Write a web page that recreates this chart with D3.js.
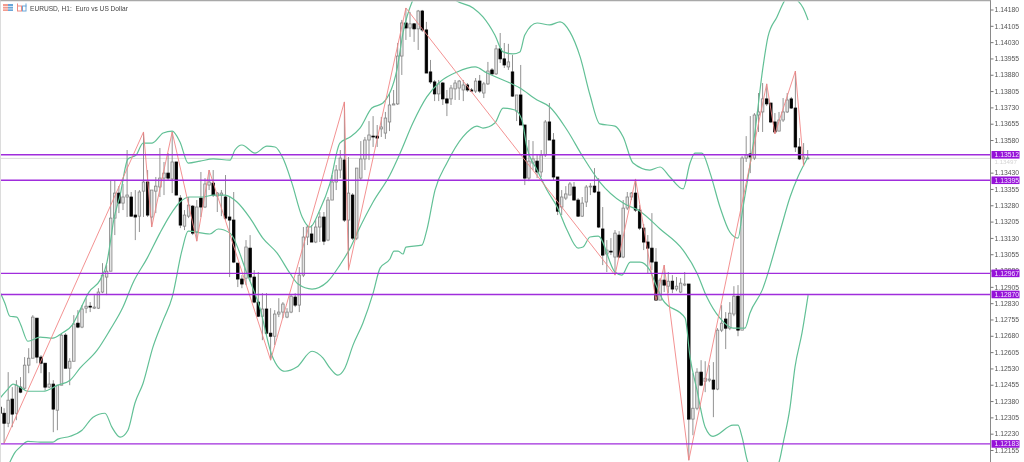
<!DOCTYPE html>
<html><head><meta charset="utf-8">
<script src="https://cdn.jsdelivr.net/npm/d3@7/dist/d3.min.js"></script>
<style>html,body{margin:0;padding:0;background:#fff}svg{display:block;filter:blur(.35px)}</style>
</head><body><div id="c"></div>
<script>
// Prices in points (1.13512 = 113512)
const chartTitle = "EURUSD, H1:  Euro vs US Dollar";
const opens = [112352,112324,112278,112389,112324,112444,112439,112545,112577,112761,112582,112554,112444,112458,112338,112453,112683,112531,112563,112738,112720,112807,112816,112807,112807,112881,112950,112977,113221,113336,113290,113318,113318,113235,113230,113345,113387,113226,113345,113364,113405,113428,113401,113479,113313,113184,113230,113276,113157,113313,113272,113373,113382,113322,113327,113318,113226,113212,113014,112941,112945,113083,112950,112835,112770,112803,112692,112678,112780,112789,112766,112789,112858,112821,112959,113134,113148,113111,113180,113226,113120,113304,113387,113442,113488,113212,113327,113129,113405,113493,113580,113598,113598,113631,113612,113663,113741,113746,113966,114118,114095,114114,114091,114173,114086,113893,113847,113792,113842,113769,113769,113815,113819,113810,113833,113810,113805,113851,113796,113838,113902,113884,113999,113953,113916,113893,113713,113787,113649,113405,113474,113483,113433,113511,113663,113580,113410,113272,113313,113327,113364,113304,113230,113295,113364,113368,113341,113171,113056,113069,113042,113143,113042,113267,113318,113336,113258,113175,113111,113083,113019,112844,112936,112908,112931,112895,112881,112913,112918,112297,112347,112513,112471,112476,112476,112435,112706,112757,112715,112780,112862,112706,113497,113516,113497,113695,113709,113769,113750,113663,113621,113672,113709,113769,113727,113548,113493,113493];
const highs = [112384,112347,112513,112444,112476,112490,112582,112623,112775,112761,112591,112554,112513,112476,112453,112692,112692,112577,112775,112798,112821,112853,112835,112867,112899,113014,113005,113396,113396,113368,113378,113534,113341,113350,113350,113617,113442,113350,113410,113543,113479,113520,113617,113479,113327,113258,113318,113281,113304,113433,113405,113442,113442,113341,113350,113419,113318,113341,113014,112959,113120,113143,112982,112973,112876,112876,112807,112798,112853,112835,112807,112867,112876,112996,113180,113189,113189,113212,113249,113249,113318,113419,113465,113534,113755,113502,113336,113451,113575,113594,113667,113690,113649,113686,113709,113792,113810,114026,114132,114187,114169,114118,114178,114178,114123,113948,113856,113856,113847,113810,113833,113856,113856,113856,113842,113819,113865,113879,113847,113939,113911,114017,114072,114026,114022,113971,113787,113925,113649,113580,113575,113511,113534,113672,113750,113612,113410,113350,113368,113387,113387,113313,113318,113373,113382,113451,113405,113272,113120,113129,113166,113161,113304,113341,113341,113401,113281,113194,113143,113244,113083,112945,113005,112973,112959,112950,112945,112973,112918,112508,112531,112568,112563,112545,112559,112715,112821,112789,112835,112908,112913,113506,113598,113690,113704,113796,113842,113838,113750,113704,113709,113773,113796,113778,113897,113589,113566,113534];
const lows = [112292,112186,112260,112260,112292,112416,112430,112508,112577,112554,112508,112430,112439,112237,112246,112453,112531,112453,112563,112715,112715,112784,112789,112803,112803,112876,112867,112977,113143,113244,113258,113226,113230,113120,113157,113226,113226,113180,113244,113318,113327,113396,113336,113327,113175,113166,113221,113143,113115,113226,113267,113350,113318,113249,113230,113212,112950,113014,112904,112899,112913,112931,112830,112766,112660,112683,112568,112637,112766,112761,112761,112784,112812,112789,112950,113097,113111,113106,113111,113097,113115,113304,113350,113405,113203,112982,113120,113120,113396,113442,113488,113548,113548,113594,113585,113621,113741,113741,113879,114040,114054,114031,113994,114077,113888,113838,113759,113759,113741,113690,113741,113764,113764,113759,113801,113801,113796,113796,113773,113833,113879,113879,113934,113911,113902,113778,113667,113649,113373,113391,113442,113405,113410,113502,113580,113396,113235,113235,113304,113327,113304,113226,113226,113272,113327,113336,113175,113005,112973,113051,112959,113037,113037,113258,113304,113249,113166,113074,112968,112982,112844,112844,112881,112876,112876,112885,112876,112908,112108,112223,112338,112448,112421,112467,112306,112430,112697,112619,112706,112770,112678,112706,113479,113428,113488,113617,113617,113736,113658,113608,113621,113663,113704,113723,113525,113488,113460,113493];
const closes = [112324,112278,112384,112320,112453,112421,112545,112577,112766,112582,112554,112444,112458,112343,112453,112683,112531,112563,112734,112720,112803,112816,112812,112812,112881,112959,112977,113221,113336,113290,113318,113327,113230,113226,113341,113387,113235,113350,113368,113405,113428,113405,113479,113327,113189,113235,113281,113152,113272,113272,113378,113387,113327,113336,113336,113221,113212,113019,112941,112918,113088,112950,112835,112770,112803,112692,112678,112780,112789,112826,112789,112862,112821,112959,113134,113180,113111,113180,113226,113115,113304,113387,113442,113497,113212,113336,113129,113451,113493,113580,113603,113594,113589,113640,113681,113741,113746,113966,114118,114095,114114,114091,114173,114086,113888,113847,113792,113838,113769,113750,113819,113842,113851,113833,113810,113805,113851,113805,113838,113897,113884,113999,113953,113925,113939,113782,113787,113649,113405,113483,113493,113433,113511,113663,113580,113410,113253,113318,113332,113378,113304,113230,113290,113364,113368,113341,113180,113051,113074,113065,113152,113042,113267,113318,113336,113258,113175,113111,113083,113019,112844,112936,112913,112931,112895,112908,112922,112918,112297,112347,112513,112453,112485,112481,112435,112706,112738,112715,112784,112862,112706,113497,113511,113502,113695,113709,113769,113746,113663,113617,113672,113709,113764,113727,113548,113493,113502,113497];

const zigzagIndex = [1,35,37,42,48,51,66,84,85,99,150,155,160,162,168,187,189,194,196];
const zigzagPrice = [112186,113617,113180,113617,113115,113442,112568,113755,112982,114187,112959,113401,112844,113005,112108,113838,113608,113897,113460];

const upperIndex = [0,1.2,2.4,4.1,5.1,6.8,9.8,12.9,15.1,17.6,19.5,21.7,24.4,26.1,27.1,27.6,29.3,31.2,33.2,34.9,37.1,39.8,42,43.9,45.9,48.8,52,56.1,57.3,59,62.2,65.1,67.1,69,71.2,73.7,75.6,78,80.5,82.9,85.4,87.8,90.7,93.4,96.8,98.3,100.7,105.9,111,115.4,117.8,120.7,122.7,125.1,126.8,128,131,134.1,136.6,139,141.5,143.9,146.3,150,152,154.4,158.5,161,163.4,166.6,168.3,169.5,171.2,173.2,175.6,178,180,181.2,184.1,186.1,187.3,189.5,191.5,192.9,194.4,195.9,197.1];
const upperBand = [112881,112830,112770,112766,112729,112655,112674,112669,112692,112729,112798,112881,112936,113019,113134,113198,113327,113493,113511,113566,113566,113612,113621,113571,113474,113483,113493,113488,113534,113557,113520,113552,113548,113497,113382,113226,113180,113258,113382,113566,113594,113635,113727,113750,113902,114072,114224,114339,114224,114187,114146,114063,113985,113976,113985,114063,114118,114109,114123,114077,113962,113787,113654,113644,113594,113474,113442,113456,113410,113355,113474,113520,113520,113428,113272,113157,113129,113267,113612,113916,114054,114146,114224,114247,114224,114187,114132];
const middleIndex = [0,1.7,3.2,4.9,6.8,10.5,14.1,17.1,19.5,23.7,26.8,30,32.4,35.9,39,41.5,43.9,46.3,49.5,52,54.9,57.8,61,64.1,67.6,70.7,72.7,76.1,79.8,82.9,85.4,87.1,91,95.1,97.6,100.7,104.1,107.3,111.5,115.9,118.8,122.7,126.8,131,134.1,138.3,142.2,146.3,152,156.1,161,166.6,170,172.4,175.6,178.8,181.7,182.9,185.9,190.2,192.7,194.6,197.1];
const middleBand = [112393,112430,112458,112444,112425,112425,112453,112476,112531,112614,112706,112812,112922,113037,113152,113235,113295,113318,113318,113327,113327,113295,113221,113129,113060,112968,112918,112895,112927,113005,113083,113152,113295,113419,113520,113658,113778,113847,113893,113916,113888,113856,113819,113764,113732,113626,113502,113387,113290,113253,113171,113074,112968,112858,112761,112715,112715,112784,112890,113157,113318,113410,113502];
const lowerIndex = [2.4,3.7,4.9,6.8,9.8,12.9,14.1,17.1,20,22.7,25.6,27.3,29.3,31.2,32.9,34.9,37.3,39.8,42,44.4,45.9,51.2,53.2,56.1,60.2,63.4,66.3,69.5,72.4,76.1,78.8,80.5,82.4,84.1,86.1,88.5,91,92.7,95.1,96.1,97.1,98.3,99,102.9,104.1,106.1,109,112.9,116.3,117.8,120.7,122.7,125.6,127.3,128.5,131,133.4,135.9,138.3,141,142.2,143.9,145.9,150,151.7,153.7,156.1,158.5,160.2,161.7,167.1,168.3,170,172,173.9,178.8,180,181,182.4,186.6,190,191,192.7,193.9,195.6,197.1];
const lowerBand = [112099,112145,112168,112195,112191,112191,112205,112218,112246,112306,112324,112260,112214,112246,112370,112462,112628,112752,112858,113074,113161,113148,113171,113152,112968,112807,112591,112517,112536,112609,112577,112531,112499,112531,112637,112738,112876,112991,113033,113069,113069,113056,113088,113097,113166,113350,113474,113594,113644,113635,113658,113727,113718,113672,113548,113442,113350,113272,113166,113083,113088,113134,113138,112973,112959,113019,113019,112982,112904,112844,112761,112582,112430,112260,112218,112269,112269,112214,112099,112016,112099,112186,112352,112536,112692,112867];

const levels = [113512,113395,112967,112870,112183];
const currentPrice = 113497;
const hiddenTicks = [113505];
const tickFirst = 114180, tickLast = 112155, tickStep = 75;
const tickValues = d3.range(tickFirst, tickLast - 1, -tickStep).filter(v => !hiddenTicks.includes(v));

const W = 1024, H = 462, axisX = 990.5;
const fmt = v => (v / 1e5).toFixed(5);
const x = d3.scaleLinear().domain([0, 197]).range([0, 807.7]);
const y = d3.scaleLinear().domain([114180, 112155]).range([9.5, 450]);

const svg = d3.select("#c").append("svg").attr("width", W).attr("height", H).attr("viewBox", `0 0 ${W} ${H}`);
svg.append("rect").attr("width", W).attr("height", H).attr("fill", "#fff");
svg.append("defs").append("clipPath").attr("id", "plot").append("rect")
  .attr("x", 1).attr("y", 1.5).attr("width", axisX - 1).attr("height", H - 1.5);
const plot = svg.append("g").attr("clip-path", "url(#plot)");

// current price line
plot.append("line").attr("x1", 0).attr("x2", axisX)
  .attr("y1", y(currentPrice) + .3).attr("y2", y(currentPrice) + .3).attr("stroke", "#d0d0d0").attr("stroke-width", .8);

// candles
const idx = d3.range(opens.length);
plot.append("g").selectAll("line").data(idx).join("line")
  .attr("x1", x).attr("x2", x).attr("y1", i => y(highs[i])).attr("y2", i => y(lows[i]))
  .attr("stroke", "#808080").attr("stroke-width", .85);
plot.append("g").selectAll("rect").data(idx).join("rect")
  .attr("x", i => x(i) - 1.25).attr("width", 2.5)
  .attr("y", i => y(Math.max(opens[i], closes[i])))
  .attr("height", i => Math.max(.6, Math.abs(y(opens[i]) - y(closes[i]))))
  .attr("fill", i => closes[i] >= opens[i] ? "#e4e4e4" : "#000")
  .attr("stroke", i => closes[i] >= opens[i] ? "#858585" : "#000").attr("stroke-width", .8);

// bands
const line = d3.line().x(d => x(d[0])).y(d => y(d[1]));
[[upperIndex, upperBand], [middleIndex, middleBand], [lowerIndex, lowerBand]].forEach(([a, b]) => {
  plot.append("path").attr("d", line.curve(d3.curveMonotoneX)(a.map((v, i) => [v, b[i]])))
    .attr("fill", "none").attr("stroke", "#62c096").attr("stroke-width", 1.2);
});
// zigzag
plot.append("path").attr("d", line.curve(d3.curveLinear)(zigzagIndex.map((v, i) => [v, zigzagPrice[i]])))
  .attr("fill", "none").attr("stroke", "#f28686").attr("stroke-width", .9);
// levels
plot.append("g").selectAll("line").data(levels).join("line")
  .attr("x1", 0).attr("x2", axisX).attr("y1", y).attr("y2", y)
  .attr("stroke", "#a02ddc").attr("stroke-width", 1.4);

// axis
const axis = d3.axisRight(y).tickValues(tickValues).tickFormat(fmt).tickSize(3).tickPadding(1);
const ax = svg.append("g").attr("transform", `translate(${axisX},0)`).call(axis);
ax.select(".domain").attr("stroke", "#8a8a8a").attr("d", `M0,0V${H}`);
ax.selectAll(".tick line").attr("stroke", "#777");
ax.selectAll("text").attr("font-family", "Liberation Sans").attr("font-size", 6.8).attr("fill", "#555");

// current price tag
svg.append("text").attr("x", axisX + 4).attr("y", y(currentPrice) + 5.5).text(fmt(currentPrice))
  .attr("font-family", "Liberation Sans").attr("font-size", 6.2).attr("fill", "#d4d4d4");

// level tags
const tags = svg.append("g").selectAll("g").data(levels).join("g").attr("transform", d => `translate(${axisX + 1},${y(d)})`);
tags.append("rect").attr("x", 0).attr("y", -3.8).attr("width", 28).attr("height", 7.6).attr("fill", "#9612d8");
tags.append("text").attr("x", 3).attr("y", 2.5).text(fmt).attr("font-family", "Liberation Sans").attr("font-size", 6.8).attr("fill", "#f4e6ff");

// frame
svg.append("line").attr("x1", 0).attr("x2", axisX).attr("y1", .6).attr("y2", .6).attr("stroke", "#a8a8a8").attr("stroke-width", 1.2);
svg.append("line").attr("x1", .3).attr("x2", .3).attr("y1", 0).attr("y2", H).attr("stroke", "#c8c8c8").attr("stroke-width", .8);

// header
const head = svg.append("g");
head.append("rect").attr("x", 3).attr("y", 4).attr("width", 5).attr("height", 7).attr("fill", "#f29a8e");
head.append("rect").attr("x", 8).attr("y", 4).attr("width", 5).attr("height", 7).attr("fill", "#6aa6d8");
[6.2, 8.6].forEach(py => head.append("rect").attr("x", 3).attr("y", py).attr("width", 10).attr("height", .7).attr("fill", "#fff"));
head.append("rect").attr("x", 17.5).attr("y", 6).attr("width", 4).attr("height", 5).attr("fill", "#fff").attr("stroke", "#ef8a80").attr("stroke-width", 1);
head.append("rect").attr("x", 22.5).attr("y", 6).attr("width", 3.5).attr("height", 5).attr("fill", "#fff").attr("stroke", "#6aa6d8").attr("stroke-width", 1);
head.append("rect").attr("x", 17).attr("y", 3.5).attr("width", 1).attr("height", 3).attr("fill", "#ef8a80");
head.append("rect").attr("x", 25.5).attr("y", 3.5).attr("width", 1).attr("height", 3).attr("fill", "#6aa6d8");
head.append("text").attr("x", 30).attr("y", 10.5).text(chartTitle).style("white-space", "pre")
  .attr("font-family", "Liberation Sans").attr("font-size", 6.6).attr("fill", "#444");
</script></body></html>
